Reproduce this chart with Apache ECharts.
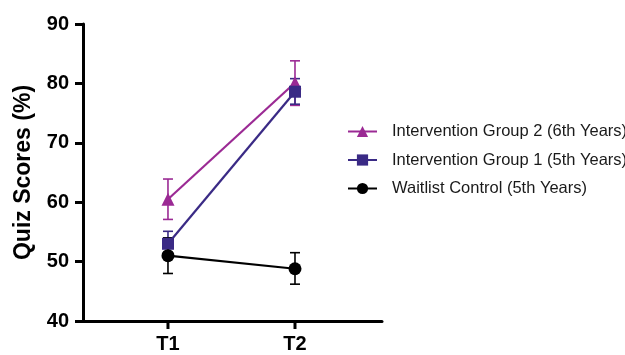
<!DOCTYPE html>
<html>
<head>
<meta charset="utf-8">
<script src="https://cdn.jsdelivr.net/npm/echarts@6/dist/echarts.min.js"></script>
<style>
html, body { margin: 0; padding: 0; background: #fff; }
#chart { width: 625px; height: 355px; }
</style>
</head>
<body>
<div id="chart"></div>
<script>
// Time points (x positions 1 and 2 on a value axis)
const timePoints = ['T1', 'T2'];
const timeX = [1, 2];

// Mean quiz scores (%)
const group2Mean = [60.5, 80.1];
const group1Mean = [53.0, 78.6];
const controlMean = [51.0, 48.8];

// Error bar extents (lower, upper)
const group2Low = [57.1, 76.3];
const group2High = [63.9, 83.8];
const group1Low = [51.0, 76.5];
const group1High = [55.1, 80.8];
const controlLow = [48.0, 46.2];
const controlHigh = [54.0, 51.5];

const yTicks = [40, 50, 60, 70, 80, 90];

const seriesNames = [
  'Intervention Group 2 (6th Years)',
  'Intervention Group 1 (5th Years)',
  'Waitlist Control (5th Years)'
];
const colors = ['#9b2a94', '#3a2a85', '#000000'];

const FONT = 'Liberation Sans, Arial, sans-serif';

function points(means) {
  return timeX.map((x, i) => [x, means[i]]);
}
function errData(low, high) {
  return timeX.map((x, i) => [x, low[i], high[i]]);
}

function errorSeries(name, low, high, color, z) {
  return {
    type: 'custom',
    name: name,
    z: z,
    silent: true,
    data: errData(low, high),
    encode: { x: 0, y: [1, 2] },
    renderItem: function (params, api) {
      const x = api.value(0);
      const lo = api.coord([x, api.value(1)]);
      const hi = api.coord([x, api.value(2)]);
      const hw = 5;
      const style = { stroke: color, lineWidth: 1.6, fill: null };
      return {
        type: 'group',
        children: [
          { type: 'line', shape: { x1: lo[0], y1: lo[1], x2: hi[0], y2: hi[1] }, style: style },
          { type: 'line', shape: { x1: lo[0] - hw, y1: lo[1], x2: lo[0] + hw, y2: lo[1] }, style: style },
          { type: 'line', shape: { x1: hi[0] - hw, y1: hi[1], x2: hi[0] + hw, y2: hi[1] }, style: style }
        ]
      };
    }
  };
}

function lineSeries(name, means, color, symbol, size, z) {
  return {
    type: 'line',
    name: name,
    z: z,
    data: points(means),
    symbol: symbol,
    symbolSize: size,
    showSymbol: true,
    lineStyle: { color: color, width: 2.2 },
    itemStyle: { color: color, borderWidth: 0 },
    emphasis: { disabled: true }
  };
}

const chart = echarts.init(document.getElementById('chart'), null, { renderer: 'canvas' });

chart.setOption({
  animation: false,
  backgroundColor: '#ffffff',
  grid: { left: 83, right: 243, top: 24, bottom: 34, containLabel: false },
  legend: {
    orient: 'vertical',
    left: 347,
    top: 123,
    padding: 0,
    itemWidth: 29,
    itemHeight: 14,
    itemGap: 11.5,
    data: seriesNames,
    textStyle: { fontFamily: FONT, fontSize: 16.5, lineHeight: 16, color: '#1a1a1a', padding: [0, 0, 0, 10] }
  },
  xAxis: {
    type: 'value',
    min: 0.331,
    max: 2.685,
    splitLine: { show: false },
    axisLine: { lineStyle: { color: '#000', width: 3 } },
    axisTick: { show: false },
    axisLabel: { show: false }
  },
  yAxis: {
    type: 'value',
    min: 40,
    max: 90,
    interval: 10,
    name: 'Quiz Scores (%)',
    nameLocation: 'middle',
    nameGap: 48,
    nameTextStyle: { fontFamily: FONT, fontSize: 23, fontWeight: 'bold', color: '#000' },
    splitLine: { show: false },
    axisLine: { show: true, lineStyle: { color: '#000', width: 3 } },
    axisTick: { show: true, length: 8, lineStyle: { color: '#000', width: 3 } },
    axisLabel: {
      fontFamily: FONT, fontSize: 20, fontWeight: 'bold', color: '#000', margin: 14,
      formatter: function (v) { return yTicks.indexOf(v) >= 0 ? String(v) : ''; }
    }
  },
  series: [
    errorSeries('err2', group2Low, group2High, colors[0], 3),
    errorSeries('err1', group1Low, group1High, colors[1], 4),
    errorSeries('err0', controlLow, controlHigh, colors[2], 5),
    lineSeries(seriesNames[0], group2Mean, colors[0], 'triangle', 13, 6),
    lineSeries(seriesNames[1], group1Mean, colors[1], 'rect', 12, 7),
    lineSeries(seriesNames[2], controlMean, colors[2], 'circle', 13, 8),
    // Category ticks and labels drawn at the time points
    {
      type: 'custom',
      name: 'ticks',
      silent: true,
      z: 10,
      data: timeX.map((x, i) => [x, i]),
      encode: { x: 0 },
      renderItem: function (params, api) {
        const p = api.coord([api.value(0), 40]);
        return {
          type: 'group',
          children: [
            { type: 'line', shape: { x1: p[0], y1: p[1], x2: p[0], y2: p[1] + 8 }, style: { stroke: '#000', lineWidth: 3 } },
            { type: 'text', style: { text: timePoints[api.value(1)], x: p[0], y: p[1] + 13, align: 'center', verticalAlign: 'top', font: 'bold 20px ' + FONT, fill: '#000' } }
          ]
        };
      }
    }
  ]
});
</script>
</body>
</html>
